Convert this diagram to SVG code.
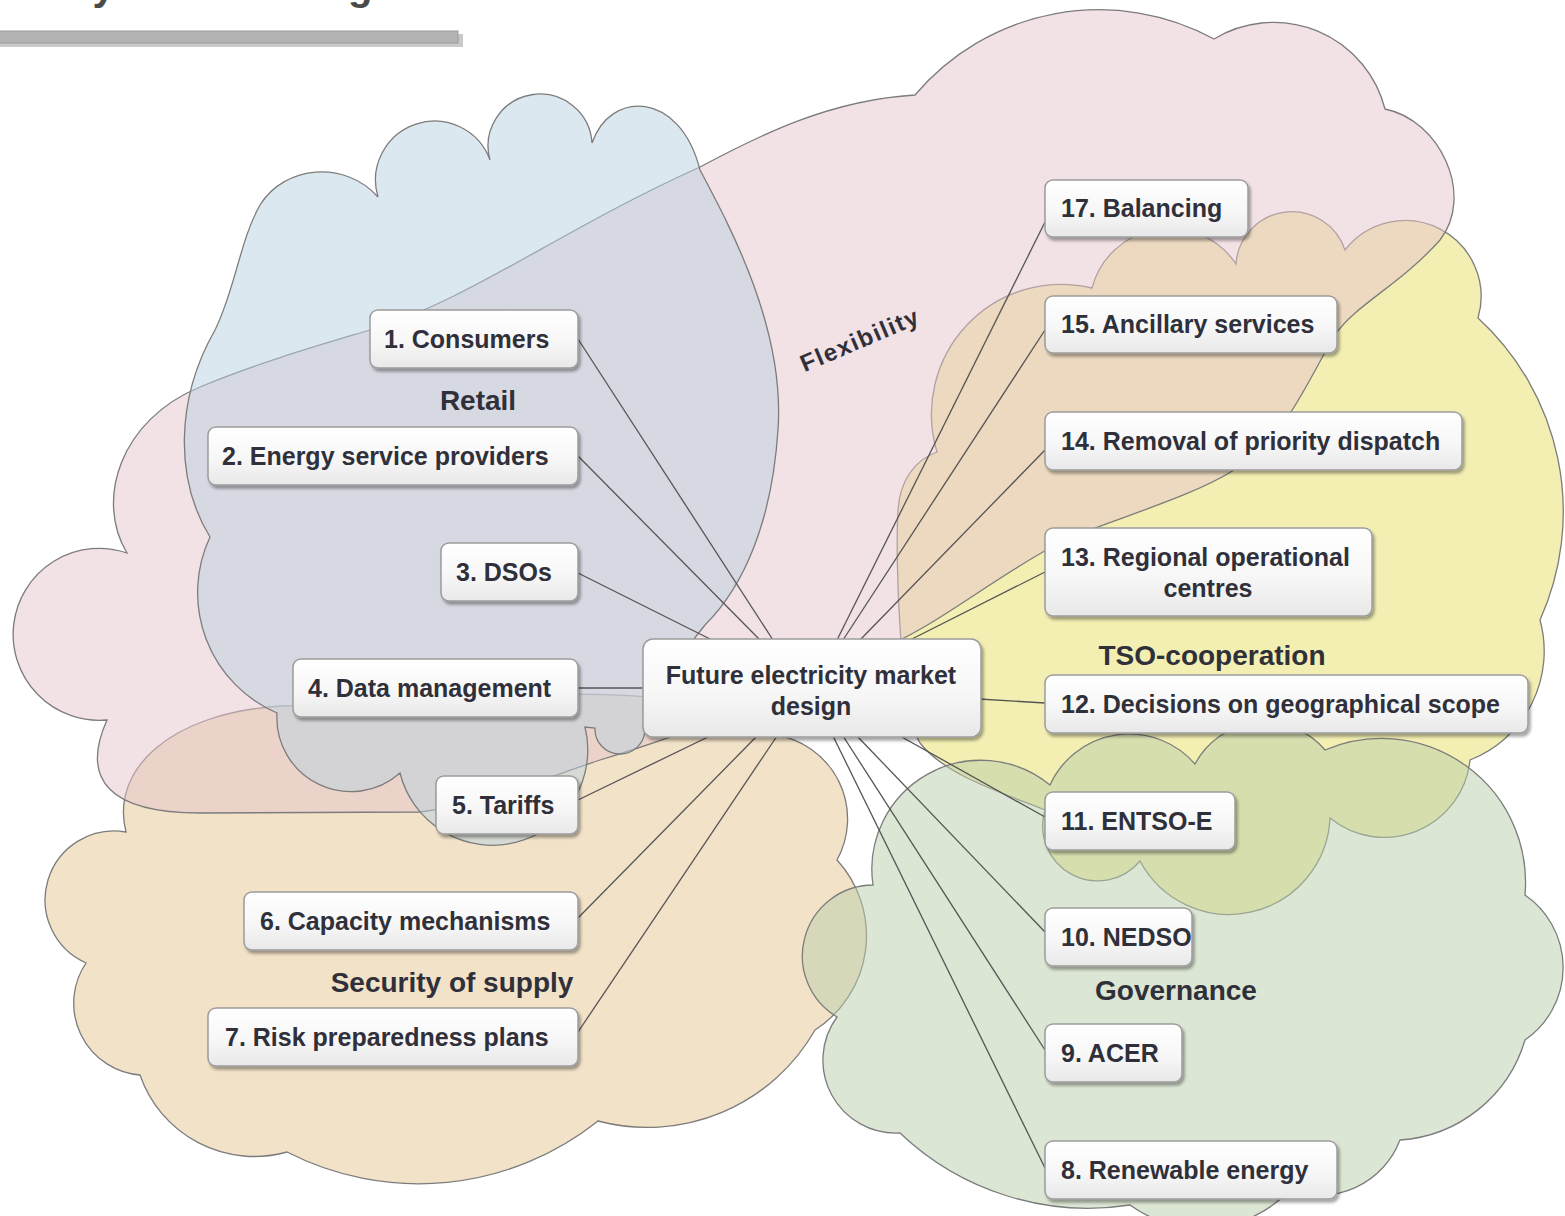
<svg xmlns="http://www.w3.org/2000/svg" width="1565" height="1216" viewBox="0 0 1565 1216">
<defs>
<linearGradient id="g" x1="0" y1="0" x2="0" y2="1"><stop offset="0" stop-color="#ffffff"/><stop offset="0.55" stop-color="#f7f7f7"/><stop offset="1" stop-color="#e8e8e8"/></linearGradient>
<filter id="sh" x="-10%" y="-10%" width="130%" height="160%"><feDropShadow dx="2" dy="3" stdDeviation="1.5" flood-color="#000" flood-opacity="0.35"/></filter>
<style>
.cloud{stroke:#7c7c7c;stroke-width:1.3;fill-opacity:0.5}
.box{fill:url(#g);stroke:#9c9c9c;stroke-width:1.5;filter:url(#sh)}
.t{font-family:"Liberation Sans",Arial,sans-serif;font-weight:bold;font-size:25px;fill:#30303a}
.lbl{font-family:"Liberation Sans",Arial,sans-serif;font-weight:bold;font-size:28px;fill:#30303a}
#connectors line{stroke:#555;stroke-width:1.3}
</style>
</defs>
<rect width="1565" height="1216" fill="#fff"/>
<text x="397" y="0" text-anchor="end" font-family="Liberation Sans, Arial, sans-serif" font-weight="bold" font-size="40" fill="#4a4a4a">Electricity market design</text>
<rect x="-5" y="34" width="468" height="13" fill="#c9c9c9"/>
<rect x="-5" y="31" width="463" height="12" fill="#b3b3b3" stroke="#9a9a9a" stroke-width="1"/>
<g id="clouds">
<path id="cloud-security" class="cloud" fill="#e5c591" d="M126,832 C110,770 170,712 283,706 C420,700 560,688 660,698 C720,705 755,720 776,735 A85 85 0 0 1 837,860 A112 112 0 0 1 815,1030 A193 193 0 0 1 598,1121 A288 288 0 0 1 287,1152 A121 121 0 0 1 140,1075 A72 72 0 0 1 86,963 A69 69 0 0 1 126,832 Z"/>
<path id="cloud-tso" class="cloud" fill="#e7df65" d="M937,452 A130 130 0 0 1 1092,288 A80 80 0 0 1 1236,264 A56 56 0 0 1 1345,250 A76 76 0 0 1 1478,318 A263 263 0 0 1 1540,620 A117 117 0 0 1 1470,760 A86 86 0 0 1 1330,818 A101 101 0 0 1 1140,861 A55 55 0 0 1 1045,810 C1000,792 945,775 920,743 C900,710 895,560 898,510 C900,480 915,460 937,452 Z"/>
<path id="cloud-flexibility" class="cloud" fill="#e5c3cb" d="M127,553 C95,500 120,420 200,387 C260,362 320,345 370,330 C470,300 560,230 700,167 C760,135 830,100 915,95 A241 241 0 0 1 1214,39 A115 115 0 0 1 1385,109 C1440,120 1475,195 1440,240 C1400,285 1355,305 1335,335 C1305,385 1285,440 1234,470 C1190,498 1110,520 1065,540 C1015,565 970,600 924,627 C850,670 700,730 600,760 C540,780 480,805 420,812 L200,813 C110,813 80,780 107,720 A86 86 0 1 1 127,553 Z"/>
<path id="cloud-retail" class="cloud" fill="#b9d1df" d="M210,537 C175,480 175,400 215,330 C235,290 240,240 260,205 C285,165 345,160 378,197 A59 59 0 0 1 490,160 A52 52 0 1 1 592,143 C610,90 680,90 700,170 C732,230 785,330 778,430 C772,520 745,585 705,625 C680,655 660,690 645,730 A25 25 0 0 1 595,728 L585,727 A95 95 0 0 1 400,773 A74 74 0 0 1 277,713 A131 131 0 0 1 210,537 Z"/>
<path id="cloud-governance" class="cloud" fill="#b9cda9" d="M873,885 A109 109 0 0 1 1050,785 A87 87 0 0 1 1195,764 A79 79 0 0 1 1325,750 A144 144 0 0 1 1525,895 A88 88 0 0 1 1525,1040 A140 140 0 0 1 1400,1140 A86 86 0 0 1 1290,1190 A122 122 0 0 1 1130,1205 A273 273 0 0 1 900,1133 A73 73 0 0 1 837,1017 A71 71 0 0 1 873,885 Z"/>
</g>
<g id="cloud-labels">
<text class="lbl" x="478" y="410" text-anchor="middle">Retail</text>
<text class="lbl" x="860" y="348" text-anchor="middle" letter-spacing="1.5" transform="rotate(-23 860 340)" style="font-size:24px">Flexibility</text>
<text class="lbl" x="452" y="992" text-anchor="middle">Security of supply</text>
<text class="lbl" x="1212" y="665" text-anchor="middle">TSO-cooperation</text>
<text class="lbl" x="1176" y="1000" text-anchor="middle">Governance</text>
</g>
<g id="connectors">
<line x1="578" y1="339" x2="773" y2="640"/>
<line x1="578" y1="456" x2="760" y2="640"/>
<line x1="578" y1="573" x2="712" y2="640"/>
<line x1="578" y1="688" x2="645" y2="688"/>
<line x1="578" y1="800" x2="710" y2="736"/>
<line x1="578" y1="918" x2="757" y2="736"/>
<line x1="578" y1="1032" x2="777" y2="736"/>
<line x1="1045" y1="1168" x2="833" y2="736"/>
<line x1="1045" y1="1050" x2="843" y2="736"/>
<line x1="1045" y1="932" x2="857" y2="736"/>
<line x1="1045" y1="817" x2="900" y2="736"/>
<line x1="979" y1="699" x2="1045" y2="703"/>
<line x1="910" y1="640" x2="1045" y2="572"/>
<line x1="860" y1="640" x2="1045" y2="450"/>
<line x1="843" y1="640" x2="1045" y2="330"/>
<line x1="837" y1="640" x2="1045" y2="222"/>
</g>
<g id="center"><rect class="box" x="643" y="639" width="338" height="98" rx="10"/><text class="t" x="811" y="684" text-anchor="middle">Future electricity market</text><text class="t" x="811" y="715" text-anchor="middle">design</text></g>
<g id="n1"><rect class="box" x="370" y="310" width="208" height="58" rx="8"/><text class="t" x="384" y="348">1. Consumers</text></g>
<g id="n2"><rect class="box" x="208" y="427" width="370" height="58" rx="8"/><text class="t" x="222" y="465">2. Energy service providers</text></g>
<g id="n3"><rect class="box" x="441" y="543" width="137" height="58" rx="8"/><text class="t" x="456" y="581">3. DSOs</text></g>
<g id="n4"><rect class="box" x="293" y="659" width="285" height="58" rx="8"/><text class="t" x="308" y="697">4. Data management</text></g>
<g id="n5"><rect class="box" x="436" y="776" width="142" height="58" rx="8"/><text class="t" x="452" y="814">5. Tariffs</text></g>
<g id="n6"><rect class="box" x="244" y="892" width="334" height="58" rx="8"/><text class="t" x="260" y="930">6. Capacity mechanisms</text></g>
<g id="n7"><rect class="box" x="208" y="1008" width="370" height="58" rx="8"/><text class="t" x="225" y="1046">7. Risk preparedness plans</text></g>
<g id="n17"><rect class="box" x="1045" y="180" width="203" height="57" rx="8"/><text class="t" x="1061" y="217">17. Balancing</text></g>
<g id="n15"><rect class="box" x="1045" y="296" width="292" height="57" rx="8"/><text class="t" x="1061" y="333">15. Ancillary services</text></g>
<g id="n14"><rect class="box" x="1045" y="412" width="417" height="58" rx="8"/><text class="t" x="1061" y="450">14. Removal of priority dispatch</text></g>
<g id="n13"><rect class="box" x="1045" y="528" width="327" height="88" rx="8"/><text class="t" x="1061" y="566">13. Regional operational</text><text class="t" x="1208" y="597" text-anchor="middle">centres</text></g>
<g id="n12"><rect class="box" x="1045" y="675" width="483" height="58" rx="8"/><text class="t" x="1061" y="713">12. Decisions on geographical scope</text></g>
<g id="n11"><rect class="box" x="1045" y="792" width="190" height="58" rx="8"/><text class="t" x="1061" y="830">11. ENTSO-E</text></g>
<g id="n10"><rect class="box" x="1045" y="908" width="147" height="58" rx="8"/><text class="t" x="1061" y="946">10. NEDSO</text></g>
<g id="n9"><rect class="box" x="1045" y="1024" width="137" height="58" rx="8"/><text class="t" x="1061" y="1062">9. ACER</text></g>
<g id="n8"><rect class="box" x="1045" y="1141" width="292" height="58" rx="8"/><text class="t" x="1061" y="1179">8. Renewable energy</text></g>
</svg>
